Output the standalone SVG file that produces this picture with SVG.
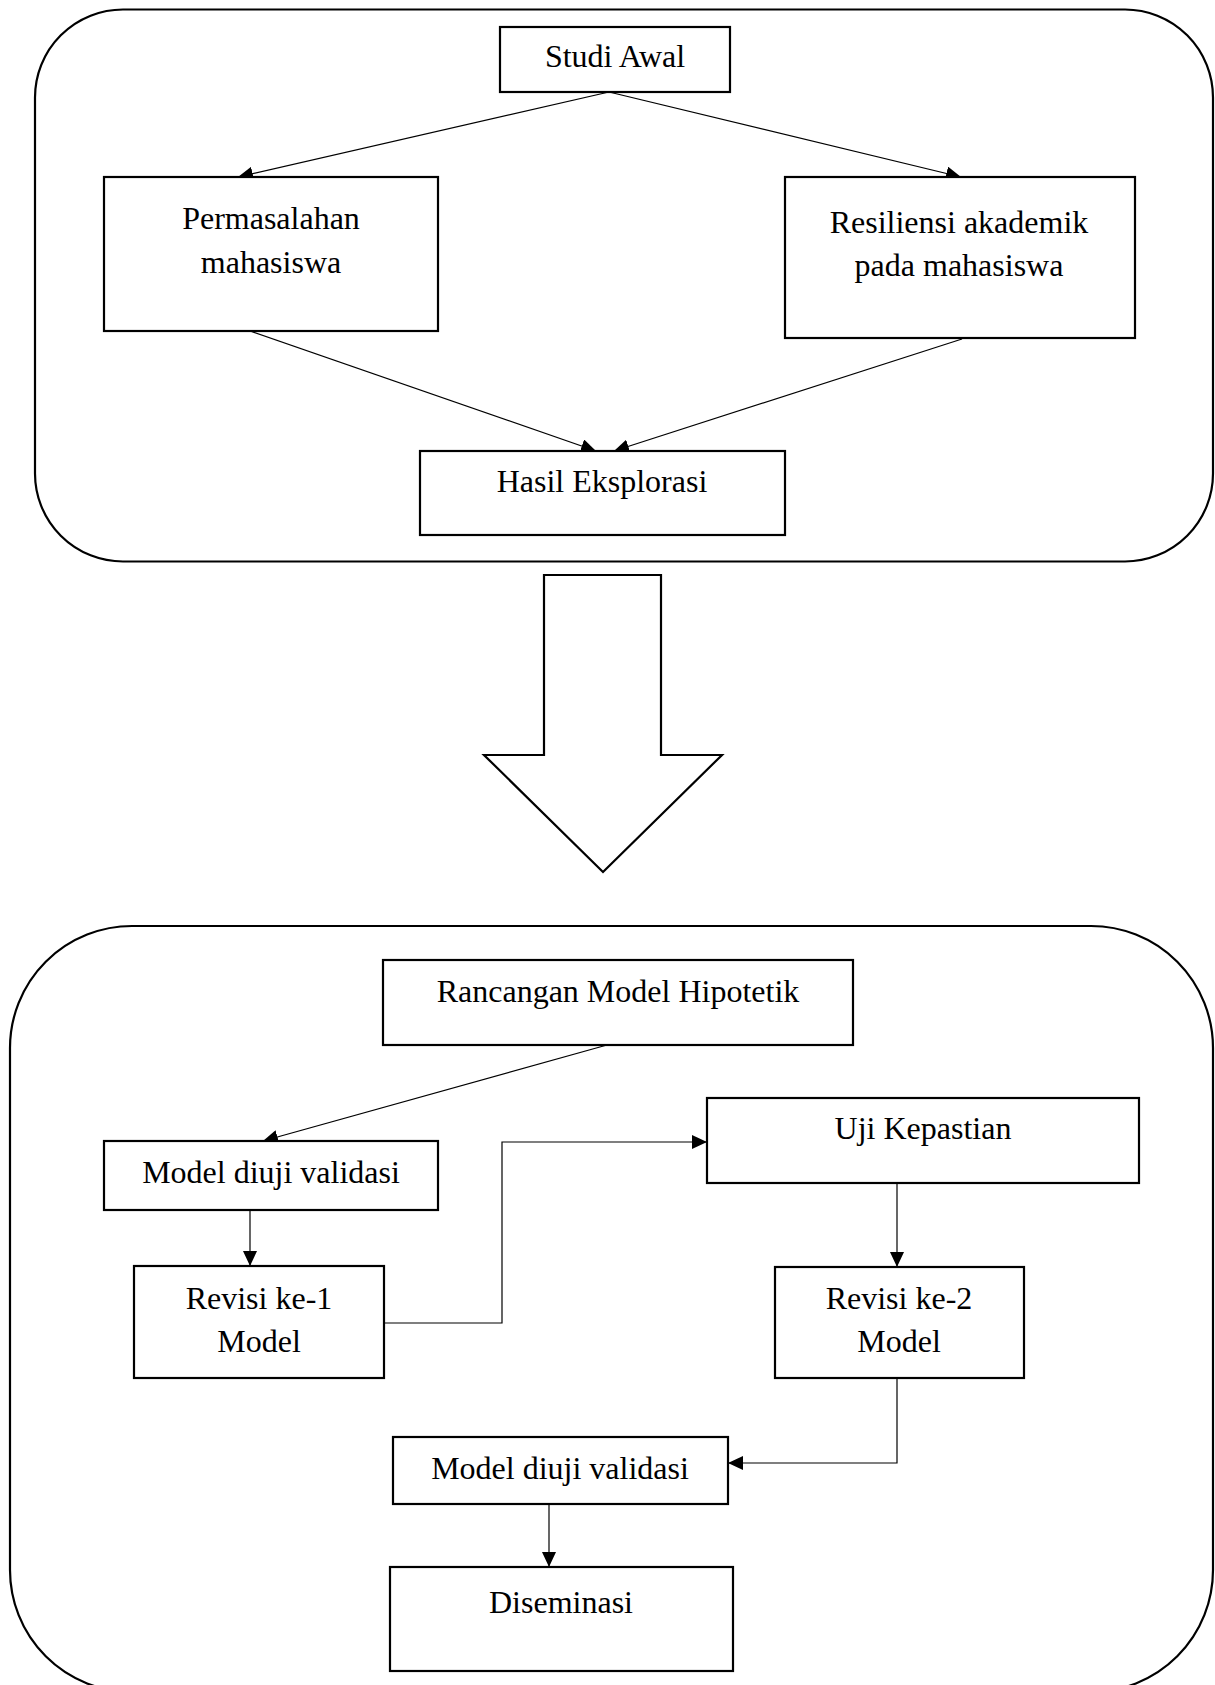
<svg xmlns="http://www.w3.org/2000/svg" width="1215" height="1685" viewBox="0 0 1215 1685">
<style>
.frame{fill:none;stroke:#000;stroke-width:2.2}
.box{fill:#fff;stroke:#000;stroke-width:2.2}
.lbl{font-family:"Liberation Serif","Times New Roman",serif;font-size:32px;fill:#000;text-anchor:middle}
.con{fill:none;stroke:#000;stroke-width:1.2}
</style>
<defs>
<marker id="ah" markerUnits="userSpaceOnUse" markerWidth="15" markerHeight="14" refX="15" refY="7" orient="auto">
<path d="M0,0 L15,7 L0,14 z" fill="#000"/>
</marker>
</defs>
<rect width="1215" height="1685" fill="#fff"/>
<g id="frame-top"><rect class="frame" x="35" y="9.5" width="1178" height="552" rx="88" ry="88"/></g>
<g id="frame-bottom"><rect class="frame" x="10" y="926" width="1203" height="766" rx="122" ry="122"/></g>
<g id="big-arrow"><polygon class="box" points="544,575 661,575 661,755 722,755 603,872 484,755 544,755"/></g>
<g id="connectors">
<line class="con" x1="609" y1="92" x2="238" y2="177" marker-end="url(#ah)"/>
<line class="con" x1="609" y1="92" x2="961" y2="177" marker-end="url(#ah)"/>
<line class="con" x1="250" y1="331" x2="596" y2="451" marker-end="url(#ah)"/>
<line class="con" x1="962" y1="339" x2="614" y2="451" marker-end="url(#ah)"/>
<line class="con" x1="607" y1="1045" x2="263" y2="1141" marker-end="url(#ah)"/>
<line class="con" x1="250" y1="1210" x2="250" y2="1266" marker-end="url(#ah)"/>
<polyline class="con" points="384,1323 502,1323 502,1142 707,1142" marker-end="url(#ah)"/>
<line class="con" x1="897" y1="1183" x2="897" y2="1267" marker-end="url(#ah)"/>
<polyline class="con" points="897,1378 897,1463 728,1463" marker-end="url(#ah)"/>
<line class="con" x1="549" y1="1504" x2="549" y2="1567" marker-end="url(#ah)"/>
</g>
<g id="studi-awal"><rect class="box" x="500" y="27" width="230" height="65"/><text class="lbl" x="615" y="67">Studi Awal</text></g>
<g id="permasalahan"><rect class="box" x="104" y="177" width="334" height="154"/><text class="lbl" x="271" y="229">Permasalahan</text><text class="lbl" x="271" y="273">mahasiswa</text></g>
<g id="resiliensi"><rect class="box" x="785" y="177" width="350" height="161"/><text class="lbl" x="959" y="233">Resiliensi akademik</text><text class="lbl" x="959" y="276">pada mahasiswa</text></g>
<g id="hasil-eksplorasi"><rect class="box" x="420" y="451" width="365" height="84"/><text class="lbl" x="602" y="492">Hasil Eksplorasi</text></g>
<g id="rancangan"><rect class="box" x="383" y="960" width="470" height="85"/><text class="lbl" x="618" y="1002">Rancangan Model Hipotetik</text></g>
<g id="validasi-1"><rect class="box" x="104" y="1141" width="334" height="69"/><text class="lbl" x="271" y="1183">Model diuji validasi</text></g>
<g id="revisi-1"><rect class="box" x="134" y="1266" width="250" height="112"/><text class="lbl" x="259" y="1309">Revisi ke-1</text><text class="lbl" x="259" y="1352">Model</text></g>
<g id="uji-kepastian"><rect class="box" x="707" y="1098" width="432" height="85"/><text class="lbl" x="923" y="1139">Uji Kepastian</text></g>
<g id="revisi-2"><rect class="box" x="775" y="1267" width="249" height="111"/><text class="lbl" x="899" y="1309">Revisi ke-2</text><text class="lbl" x="899" y="1352">Model</text></g>
<g id="validasi-2"><rect class="box" x="393" y="1437" width="335" height="67"/><text class="lbl" x="560" y="1479">Model diuji validasi</text></g>
<g id="diseminasi"><rect class="box" x="390" y="1567" width="343" height="104"/><text class="lbl" x="561" y="1613">Diseminasi</text></g>
</svg>
